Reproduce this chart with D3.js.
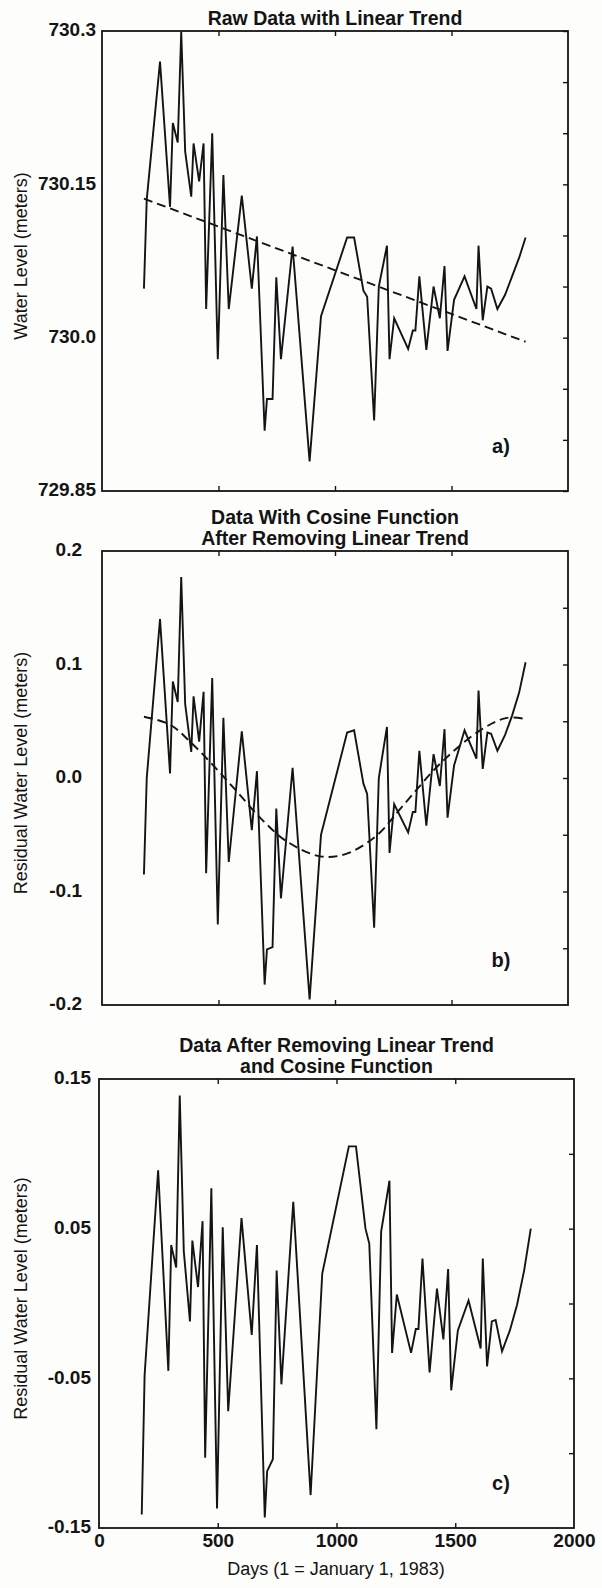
<!DOCTYPE html>
<html>
<head>
<meta charset="utf-8">
<script src="https://cdn.jsdelivr.net/npm/d3@7"></script>
<style>
    body { margin: 0; background: #fdfdfb; }
    svg { display: block; }
    text { font-family: 'Liberation Sans', Arial, sans-serif; fill: #141414; }
</style>
</head>
<body>
<div class="canvas"></div>
<script>
// sample days (1 = January 1, 1983), shared by all three panels
const days = [180, 192, 249, 292, 304, 325, 340, 357, 383, 393, 417, 436, 447, 473, 497, 521, 544,
    600, 643, 665, 698, 708, 732, 748, 768, 818, 891, 940, 1052, 1082, 1122, 1138, 1168, 1188,
    1223, 1234, 1254, 1314, 1334, 1345, 1362, 1392, 1423, 1450, 1470, 1483, 1511, 1556, 1607,
    1616, 1634, 1654, 1670, 1697, 1730, 1760, 1790, 1818]

// a) raw water level (meters)
const rawLevel = [730.048, 730.135, 730.270, 730.128, 730.210, 730.191, 730.299, 730.182, 730.138,
    730.190, 730.153, 730.190, 730.028, 730.200, 729.979, 730.159, 730.028,
    730.139, 730.048, 730.099, 729.909, 729.940, 729.940, 730.059, 729.979, 730.089, 729.879,
    730.021, 730.098, 730.098, 730.046, 730.040, 729.919, 730.050,
    730.090, 729.979, 730.019, 729.989, 730.007, 730.007, 730.060, 729.988, 730.050, 730.019,
    730.070, 729.987, 730.037, 730.060, 730.028,
    730.090, 730.017, 730.050, 730.048, 730.028, 730.042, 730.060, 730.078, 730.098]

// b) residual after removing linear trend
const residual = [-0.085, 0.000, 0.140, 0.004, 0.085, 0.067, 0.177, 0.065, 0.023,
    0.072, 0.032, 0.076, -0.084, 0.088, -0.129, 0.053, -0.074,
    0.041, -0.046, 0.006, -0.182, -0.151, -0.149, -0.027, -0.106, 0.009, -0.195,
    -0.050, 0.040, 0.042, -0.005, -0.014, -0.132, 0.000,
    0.045, -0.066, -0.023, -0.048, -0.030, -0.030, 0.024, -0.042, 0.021, -0.007,
    0.043, -0.035, 0.011, 0.042, 0.017,
    0.077, 0.008, 0.040, 0.039, 0.024, 0.038, 0.055, 0.075, 0.102]

// c) residual after removing linear trend and cosine function
const residualNoCos = [-0.141, -0.048, 0.089, -0.045, 0.039, 0.024, 0.139, 0.035, -0.012,
    0.042, 0.011, 0.055, -0.103, 0.077, -0.137, 0.051, -0.072,
    0.057, -0.021, 0.039, -0.143, -0.112, -0.104, 0.022, -0.054, 0.068, -0.128,
    0.020, 0.105, 0.105, 0.050, 0.040, -0.084, 0.048,
    0.082, -0.033, 0.006, -0.033, -0.017, -0.017, 0.030, -0.046, 0.010, -0.024,
    0.023, -0.058, -0.018, 0.002, -0.030,
    0.030, -0.042, -0.012, -0.011, -0.032, -0.018, -0.001, 0.022, 0.050]

// dashed fits
const trendDays = [180, 1818]
const trendLevel = [730.136, 729.996]
const cosineDays = [180, 292, 378, 478, 579, 693, 794, 937, 1045, 1177, 1293, 1458, 1623, 1739, 1818]
const cosineValues = [0.054, 0.047, 0.032, 0.011, -0.012, -0.038, -0.056, -0.069, -0.067,
    -0.051, -0.024, 0.014, 0.042, 0.053, 0.052]

// ticks
const xTicks = [0, 500, 1000, 1500, 2000]
const xTickLabels = ['0', '500', '1000', '1500', '2000']
const rawTicks = [730.3, 730.15, 730.0, 729.85]
const rawTickLabels = ['730.3', '730.15', '730.0', '729.85']
const residTicks = [0.2, 0.1, 0.0, -0.1, -0.2]
const residTickLabels = ['0.2', '0.1', '0.0', '-0.1', '-0.2']
const finalTicks = [0.15, 0.05, -0.05, -0.15]
const finalTickLabels = ['0.15', '0.05', '-0.05', '-0.15']

const svg = d3.select('.canvas')
    .append('svg')
    .attr('width', 602)
    .attr('height', 1588)

const ink = '#141414'

const drawPanel = (p) => {
    const x = d3.scaleLinear().domain([0, 2000]).range([p.left, p.right])
    const y = d3.scaleLinear().domain(p.domain).range([p.bottom, p.top])
    const g = svg.append('g')

    // title lines
    p.title.forEach((t, i) => {
        g.append('text')
            .attr('x', (p.left + p.right) / 2)
            .attr('y', p.titleY + i * 21)
            .attr('text-anchor', 'middle')
            .attr('font-size', 19.5)
            .attr('font-weight', 'bold')
            .text(t)
    })

    // inner ticks: right side every 0.05, top and bottom at 500s
    const right = g.append('g')
        .attr('transform', `translate(${p.right}, 0)`)
        .call(d3.axisLeft(y).tickValues(p.minorTicks).tickSize(5).tickFormat(''))
    const top = g.append('g')
        .attr('transform', `translate(0, ${p.top})`)
        .call(d3.axisBottom(x).tickValues([500, 1000, 1500]).tickSize(5).tickFormat(''))
    const bottom = g.append('g')
        .attr('transform', `translate(0, ${p.bottom})`)
        .call(d3.axisTop(x).tickValues([500, 1000, 1500]).tickSize(5).tickFormat(''))
    const left = g.append('g')
        .attr('transform', `translate(${p.left}, 0)`)
        .call(d3.axisLeft(y).tickValues(p.ticks).tickSize(0).tickPadding(p.labelPad)
            .tickFormat((d, i) => p.tickLabels[i]))
    left.selectAll('text')
        .attr('font-size', 19)
        .attr('font-weight', 'bold')
        .attr('dy', '0.25em')

    if (p.xLabels) {
        const xa = g.append('g')
            .attr('transform', `translate(0, ${p.bottom})`)
            .call(d3.axisBottom(x).tickValues(xTicks).tickSize(0).tickPadding(6)
                .tickFormat((d, i) => xTickLabels[i]))
        xa.selectAll('text').attr('font-size', 19).attr('font-weight', 'bold')
        xa.select('.domain').remove()
    }

    ;[right, top, bottom, left].forEach(a => a.select('.domain').remove())
    g.selectAll('.tick line').attr('stroke', ink).attr('stroke-width', 1.4)
    g.selectAll('.tick text').attr('fill', ink).attr('font-family', "'Liberation Sans', Arial, sans-serif")

    // frame
    g.append('rect')
        .attr('x', p.left)
        .attr('y', p.top)
        .attr('width', p.right - p.left)
        .attr('height', p.bottom - p.top)
        .attr('fill', 'none')
        .attr('stroke', ink)
        .attr('stroke-width', 1.8)

    // y axis title
    g.append('text')
        .attr('transform', `translate(21, ${(p.top + p.bottom) / 2 - 5}) rotate(-90)`)
        .attr('text-anchor', 'middle')
        .attr('dominant-baseline', 'central')
        .attr('font-size', 18)
        .text(p.yTitle)

    // dashed fit
    const fit = d3.line()
        .x(d => x(d[0]))
        .y(d => y(d[1]))
        .curve(d3.curveCatmullRom)
    g.append('path')
        .datum(d3.zip(p.fitX, p.fitY))
        .attr('d', fit)
        .attr('fill', 'none')
        .attr('stroke', ink)
        .attr('stroke-width', 1.9)
        .attr('stroke-dasharray', '9,5')

    // data line
    const line = d3.line()
        .x(d => x(d[0]))
        .y(d => y(d[1]))
    g.append('path')
        .datum(d3.zip(days, p.values))
        .attr('d', line)
        .attr('fill', 'none')
        .attr('stroke', ink)
        .attr('stroke-width', 1.9)
        .attr('stroke-linejoin', 'miter')

    // panel letter
    g.append('text')
        .attr('x', 501)
        .attr('y', p.bottom - 38)
        .attr('text-anchor', 'middle')
        .attr('font-size', 20)
        .attr('font-weight', 'bold')
        .text(p.letter)
}

drawPanel({
    left: 102, right: 568, top: 31, bottom: 491,
    domain: [729.85, 730.3],
    ticks: rawTicks, tickLabels: rawTickLabels, labelPad: 6,
    minorTicks: d3.range(0, 10).map(i => 729.85 + i * 0.05),
    title: ['Raw Data with Linear Trend'], titleY: 25,
    yTitle: 'Water Level (meters)',
    values: rawLevel, fitX: trendDays, fitY: trendLevel,
    letter: 'a)'
})

drawPanel({
    left: 102, right: 568, top: 551, bottom: 1005,
    domain: [-0.2, 0.2],
    ticks: residTicks, tickLabels: residTickLabels, labelPad: 20,
    minorTicks: d3.range(-3, 4).map(i => i * 0.05),
    title: ['Data With Cosine Function', 'After Removing Linear Trend'], titleY: 524,
    yTitle: 'Residual Water Level (meters)',
    values: residual, fitX: cosineDays, fitY: cosineValues,
    letter: 'b)'
})

drawPanel({
    left: 99, right: 574, top: 1079, bottom: 1528,
    domain: [-0.15, 0.15],
    ticks: finalTicks, tickLabels: finalTickLabels, labelPad: 8,
    minorTicks: d3.range(-2, 3).map(i => i * 0.05),
    title: ['Data After Removing Linear Trend', 'and Cosine Function'], titleY: 1052,
    yTitle: 'Residual Water Level (meters)',
    values: residualNoCos, fitX: [], fitY: [],
    letter: 'c)', xLabels: true
})

svg.append('text')
    .attr('x', 336)
    .attr('y', 1575)
    .attr('text-anchor', 'middle')
    .attr('font-size', 18)
    .attr('fill', ink)
    .text('Days (1 = January 1, 1983)')
</script>
</body>
</html>
